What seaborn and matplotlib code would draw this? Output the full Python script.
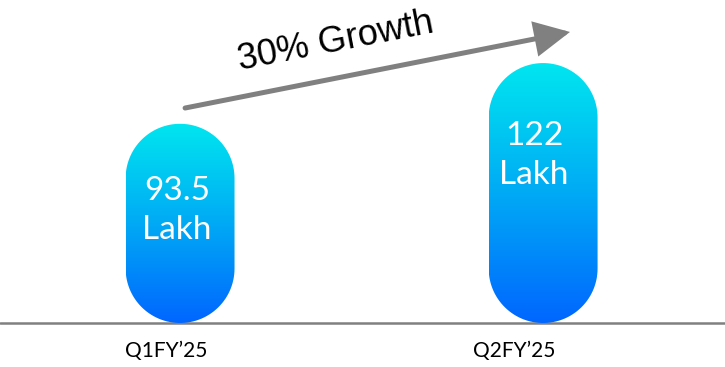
import numpy as np
import matplotlib
matplotlib.use("Agg")
import matplotlib.pyplot as plt
import seaborn as sns
import pandas as pd
from matplotlib.path import Path
from matplotlib.patches import PathPatch
from matplotlib.colors import LinearSegmentedColormap

categories = ["Q1FY\u201925", "Q2FY\u201925"]
values = [93.5, 122]
value_labels = ["93.5\nLakh", "122\nLakh"]
growth_label = "30% Growth"

sns.set_theme(style="white")
plt.rcParams['font.family'] = ['Lato', 'DejaVu Sans']

W, H = 725, 367
fig = plt.figure(figsize=(W / 100, H / 100), dpi=100)
ax = fig.add_axes([0, 44 / H, 1, 323 / H])
df = pd.DataFrame({"q": categories, "v": values})
sns.barplot(data=df, x="q", y="v", ax=ax, width=0.3, color="#00b0f0")

XLIM = (-0.496, 1.501)
YLIM = (0, 151.6)

cmap = LinearSegmentedColormap.from_list(
    "pill", [(0.0, "#0066ff"), (0.5, "#00aaf5"), (1.0, "#00e6ef")])

px_x = W / (XLIM[1] - XLIM[0])
px_y = 323 / (YLIM[1] - YLIM[0])

for p in list(ax.patches):
    x0, w, h = p.get_x(), p.get_width(), p.get_height()
    p.set_visible(False)
    rx = w / 2
    ry = rx * px_x / px_y
    cx = x0 + rx
    t1 = np.linspace(0, np.pi, 60)
    t2 = np.linspace(np.pi, 2 * np.pi, 60)
    xs = np.concatenate([cx + rx * np.cos(t1), cx + rx * np.cos(t2)])
    ys = np.concatenate([h - ry + ry * np.sin(t1), ry + ry * np.sin(t2)])
    verts = np.column_stack([xs, ys])
    verts = np.vstack([verts, verts[:1]])
    path = Path(verts, closed=True)
    pp = PathPatch(path, facecolor="none", edgecolor="none")
    ax.add_patch(pp)
    grad = np.linspace(0, 1, 256).reshape(-1, 1)
    im = ax.imshow(grad, extent=[x0, x0 + w, 0, h], origin="lower",
                   cmap=cmap, aspect="auto", zorder=2, interpolation="bilinear")
    im.set_clip_path(pp)

label_pos = [(-0.008, 52.6), (0.975, 78.6)]
for (lx, ly), lab in zip(label_pos, value_labels):
    ax.text(lx, ly, lab, ha="center", va="center", color="white",
            fontsize=24, linespacing=1.38, zorder=3)

ax.axhline(0, color="#808080", lw=1.8, clip_on=False, zorder=1)

ax.annotate("", xy=(1.074, 136.6), xytext=(0.0138, 100.9),
            arrowprops=dict(arrowstyle="-|>,head_length=1.0,head_width=0.5",
                            mutation_scale=20, lw=3.6, color="#808080",
                            shrinkA=0, shrinkB=0, capstyle="round",
                            joinstyle="miter"))
ax.text(0.43, 131.9, growth_label, rotation=11, rotation_mode="anchor",
        ha="center", va="center", fontsize=26, color="black",
        family=["Liberation Sans", "DejaVu Sans"])

ax.set_xlim(*XLIM)
ax.set_ylim(*YLIM)
ax.set_xticks([-0.039, 0.92], categories)
ax.tick_params(axis="x", length=0, pad=13, labelsize=15, labelcolor="black")
ax.set_yticks([])
ax.set_xlabel("")
ax.set_ylabel("")
for s in ax.spines.values():
    s.set_visible(False)
ax.patch.set_alpha(0)

fig.savefig("out.png", dpi=100)
